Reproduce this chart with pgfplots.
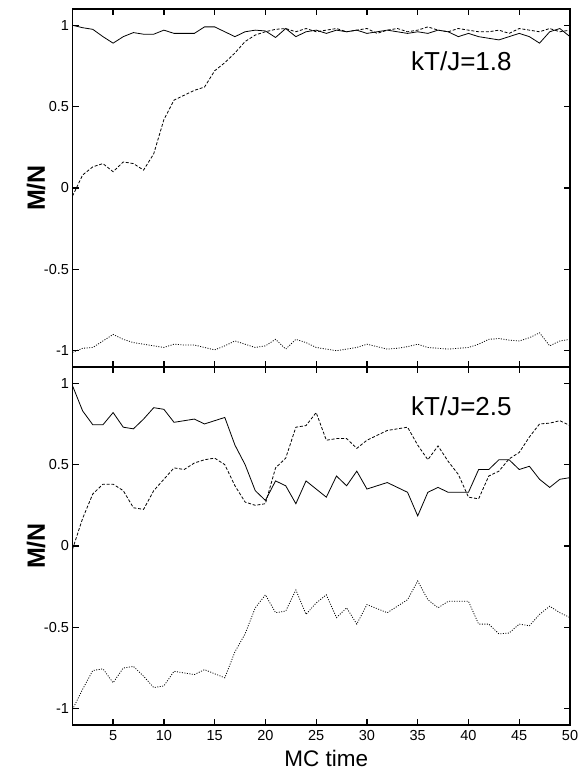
\documentclass[border=0pt]{standalone}
\usepackage{pgfplots}
\pgfplotsset{compat=1.18}
\usepackage{pgfplotstable}
\usepackage{fontspec}
\setmainfont{Liberation Sans}

% Top panel (kT/J=1.8): t, solid, dashed, dotted
\pgfplotstableread{
t   s     d      p
1   1.00  -0.05  -1.01
2   0.985 0.08   -0.985
3   0.975 0.13   -0.98
4   0.93  0.15   -0.94
5   0.89  0.10   -0.90
6   0.93  0.16   -0.93
7   0.955 0.15   -0.95
8   0.945 0.11   -0.96
9   0.945 0.21   -0.97
10  0.97  0.42   -0.98
11  0.95  0.54   -0.96
12  0.95  0.57   -0.965
13  0.95  0.60   -0.965
14  0.99  0.62   -0.98
15  0.99  0.72   -0.995
16  0.96  0.77   -0.97
17  0.93  0.83   -0.94
18  0.96  0.90   -0.96
19  0.97  0.94   -0.98
20  0.965 0.96   -0.97
21  0.925 0.975  -0.93
22  0.98  0.98   -0.99
23  0.93  0.96   -0.93
24  0.96  0.98   -0.95
25  0.97  0.96   -0.98
26  0.95  0.97   -0.99
27  0.97  0.98   -1.00
28  0.96  0.96   -0.99
29  0.97  0.97   -0.98
30  0.95  0.98   -0.96
31  0.96  0.95   -0.975
32  0.97  0.97   -0.99
33  0.96  0.98   -0.985
34  0.95  0.96   -0.975
35  0.96  0.97   -0.96
36  0.95  0.99   -0.98
37  0.97  0.97   -0.985
38  0.96  0.96   -0.99
39  0.93  0.98   -0.985
40  0.95  0.97   -0.98
41  0.93  0.96   -0.96
42  0.92  0.96   -0.93
43  0.91  0.97   -0.925
44  0.93  0.95   -0.935
45  0.95  0.98   -0.94
46  0.93  0.97   -0.92
47  0.89  0.96   -0.89
48  0.96  0.98   -0.97
49  0.98  0.96   -0.94
50  0.93  0.97   -0.93
}\toptable

% Bottom panel (kT/J=2.5)
\pgfplotstableread{
t   s     d      p
1   0.985 -0.02  -1.005
2   0.83  0.17   -0.88
3   0.745 0.32   -0.765
4   0.745 0.38   -0.755
5   0.82  0.38   -0.84
6   0.73  0.34   -0.75
7   0.72  0.235  -0.74
8   0.78  0.225  -0.80
9   0.85  0.34   -0.87
10  0.84  0.41   -0.86
11  0.76  0.48   -0.77
12  0.77  0.47   -0.78
13  0.78  0.51   -0.79
14  0.75  0.53   -0.76
15  0.77  0.54   -0.785
16  0.79  0.50   -0.81
17  0.62  0.37   -0.65
18  0.50  0.27   -0.54
19  0.34  0.25   -0.38
20  0.28  0.26   -0.30
21  0.40  0.48   -0.41
22  0.37  0.54   -0.40
23  0.26  0.73   -0.27
24  0.40  0.74   -0.42
25  0.35  0.82   -0.35
26  0.30  0.65   -0.30
27  0.43  0.66   -0.44
28  0.37  0.66   -0.38
29  0.46  0.60   -0.48
30  0.35  0.65   -0.36
31  0.37  0.68   -0.385
32  0.39  0.71   -0.41
33  0.36  0.72   -0.37
34  0.33  0.73   -0.33
35  0.185 0.62   -0.215
36  0.33  0.53   -0.33
37  0.36  0.615  -0.38
38  0.33  0.52   -0.34
39  0.33  0.44   -0.34
40  0.33  0.30   -0.34
41  0.47  0.29   -0.48
42  0.47  0.43   -0.48
43  0.53  0.46   -0.54
44  0.53  0.535  -0.535
45  0.47  0.575  -0.48
46  0.49  0.67   -0.49
47  0.41  0.75   -0.42
48  0.36  0.755  -0.37
49  0.41  0.77   -0.41
50  0.42  0.74   -0.44
}\bottable

\pgfplotsset{
  mcaxis/.style={
    scale only axis, width=497.5pt, height=358pt,
    xmin=1, xmax=50, ymin=-1.1, ymax=1.1,
    axis line style={line width=1.6pt},
    xtick={5,10,...,50},
    ytick={-1,-0.5,0,0.5,1},
    yticklabels={-1,-0.5,0,0.5,1},
    tick style={line width=1.3pt, black},
    major tick length=6pt,
    tick align=inside,
    /pgf/number format/assume math mode=true,
    ticklabel style={font=\fontsize{14.5}{16}\selectfont},
    xticklabel style={yshift=-2pt},
    ylabel={M/N},
    ylabel style={font=\fontsize{25}{28}\selectfont\bfseries, at={(axis description cs:-0.073,0.5)}, anchor=center},
  },
  sline/.style={black, line width=0.8pt, solid},
  dline/.style={black, line width=0.8pt, dash pattern=on 3pt off 1.8pt},
  pline/.style={black, line width=0.8pt, dash pattern=on 1pt off 1.5pt},
}

\begin{document}
\begin{tikzpicture}[x=1pt,y=1pt]
\useasboundingbox (0,0) rectangle (586,770);
\begin{axis}[mcaxis, at={(72.5pt,403pt)}, anchor=south west, xticklabels={}]
\addplot[sline] table[x=t,y=s] {\toptable};
\addplot[dline] table[x=t,y=d] {\toptable};
\addplot[pline] table[x=t,y=p] {\toptable};
\node[font=\fontsize{26}{28}\selectfont] at (axis cs:39.3,0.777) {kT/J=1.8};
\end{axis}
\begin{axis}[mcaxis, at={(72.5pt,45pt)}, anchor=south west,
  xlabel={MC time},
  xlabel style={font=\fontsize{22.5}{25}\selectfont, at={(axis description cs:0.51,0)}, anchor=base, yshift=-41pt}]
\addplot[sline] table[x=t,y=s] {\bottable};
\addplot[dline] table[x=t,y=d] {\bottable};
\addplot[pline] table[x=t,y=p] {\bottable};
\node[font=\fontsize{26}{28}\selectfont] at (axis cs:39.3,0.86) {kT/J=2.5};
\end{axis}
\end{tikzpicture}
\end{document}
